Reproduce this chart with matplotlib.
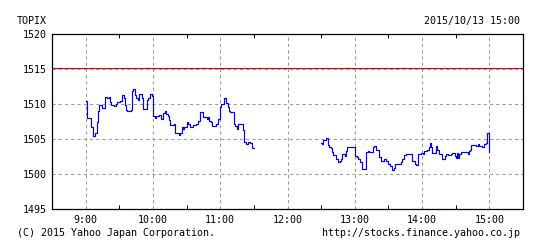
import numpy as np
import matplotlib.pyplot as plt
from matplotlib.ticker import MultipleLocator

# morning session 9:00-11:30
am_time = ["09:00", "09:01", "09:05", "09:07", "09:08", "09:10", "09:11", "09:12",
           "09:15", "09:17", "09:19", "09:21", "09:22", "09:23", "09:25", "09:27",
           "09:28", "09:31", "09:32", "09:34", "09:35", "09:36", "09:37", "09:40",
           "09:41", "09:42", "09:44", "09:45", "09:47", "09:48", "09:50", "09:51",
           "09:55", "09:56", "09:57", "09:59", "10:00", "10:02", "10:03", "10:05",
           "10:07", "10:09", "10:11", "10:12", "10:13", "10:14", "10:15", "10:19",
           "10:20", "10:23", "10:24", "10:26", "10:27", "10:28", "10:30", "10:31",
           "10:33", "10:36", "10:38", "10:40", "10:42", "10:45", "10:46", "10:48",
           "10:49", "10:50", "10:52", "10:53", "10:56", "10:58", "11:00", "11:01",
           "11:03", "11:05", "11:07", "11:08", "11:09", "11:12", "11:13", "11:15",
           "11:16", "11:18", "11:20", "11:21", "11:23", "11:25", "11:27", "11:28",
           "11:30"]
am_value = [1510.4, 1508.0, 1506.7, 1505.4, 1505.9, 1507.5, 1509.0, 1509.8,
            1509.4, 1511.0, 1510.8, 1511.0, 1510.3, 1509.9, 1509.7, 1510.0,
            1510.3, 1510.5, 1511.3, 1510.8, 1509.9, 1509.1, 1509.0, 1509.2,
            1511.9, 1512.2, 1511.3, 1510.8, 1510.6, 1511.5, 1510.9, 1509.3,
            1510.6, 1510.9, 1511.5, 1511.2, 1508.3, 1508.0, 1508.3, 1508.4,
            1507.8, 1508.7, 1509.0, 1508.6, 1508.3, 1507.7, 1507.0, 1507.1,
            1505.8, 1505.6, 1505.8, 1506.7, 1506.5, 1506.7, 1507.4, 1507.1,
            1506.7, 1507.0, 1507.1, 1507.6, 1508.8, 1508.2, 1508.1, 1507.9,
            1508.1, 1507.6, 1507.4, 1506.8, 1507.2, 1507.9, 1509.6, 1510.0,
            1510.8, 1510.2, 1509.6, 1509.0, 1508.8, 1507.2, 1506.9, 1506.4,
            1507.2, 1507.1, 1506.3, 1504.6, 1504.3, 1504.6, 1504.4, 1503.7,
            1503.7]

# afternoon session 12:30-15:00
pm_time = ["12:30", "12:31", "12:32", "12:34", "12:36", "12:37", "12:39", "12:40",
           "12:41", "12:43", "12:45", "12:47", "12:48", "12:49", "12:51", "12:52",
           "12:53", "12:56", "12:57", "12:58", "13:00", "13:02", "13:03", "13:05",
           "13:06", "13:10", "13:12", "13:13", "13:15", "13:16", "13:17", "13:19",
           "13:21", "13:22", "13:23", "13:25", "13:26", "13:28", "13:30", "13:31",
           "13:33", "13:35", "13:36", "13:39", "13:41", "13:42", "13:44", "13:46",
           "13:51", "13:54", "13:55", "13:56", "13:59", "14:01", "14:02", "14:04",
           "14:06", "14:07", "14:08", "14:09", "14:12", "14:13", "14:15", "14:18",
           "14:20", "14:21", "14:23", "14:26", "14:27", "14:29", "14:30", "14:31",
           "14:32", "14:33", "14:35", "14:37", "14:41", "14:42", "14:43", "14:44",
           "14:48", "14:50", "14:51", "14:53", "14:55", "14:57", "14:58", "14:59",
           "15:00"]
pm_value = [1504.4, 1504.3, 1504.8, 1505.1, 1504.1, 1503.8, 1503.7, 1503.1,
            1502.7, 1502.1, 1501.7, 1501.8, 1502.1, 1502.9, 1502.6, 1503.3,
            1503.9, 1503.8, 1503.9, 1503.8, 1502.6, 1502.5, 1502.1, 1501.7,
            1500.7, 1503.1, 1503.3, 1503.1, 1503.2, 1503.9, 1504.0, 1503.5,
            1503.4, 1502.4, 1501.9, 1501.8, 1502.2, 1501.8, 1501.4, 1501.1,
            1500.6, 1500.8, 1501.4, 1501.5, 1501.7, 1502.1, 1502.7, 1502.8,
            1501.8, 1501.5, 1501.3, 1502.8, 1503.0, 1502.9, 1503.3, 1503.4,
            1503.9, 1504.5, 1503.9, 1503.0, 1504.0, 1503.4, 1502.8, 1502.1,
            1502.6, 1502.8, 1502.7, 1502.9, 1503.0, 1502.6, 1502.3, 1503.0,
            1502.3, 1502.9, 1503.2, 1503.1, 1502.8, 1503.3, 1503.5, 1504.1,
            1504.0, 1504.3, 1504.0, 1503.9, 1504.3, 1504.4, 1505.8, 1505.8,
            1503.1]

prev_close = 1515.2
hour_labels = ["9:00", "10:00", "11:00", "12:00", "13:00", "14:00", "15:00"]


def to_hours(times):
    return np.array([int(t[:2]) + int(t[3:]) / 60 for t in times])


plt.rcParams['font.family'] = ['DejaVu Sans Mono']
W, H = 547, 244
fs = 7.2
fig = plt.figure(figsize=(W / 100, H / 100), dpi=100)
ax = fig.add_axes([52 / W, 1 - 209 / H, (523 - 52) / W, (209 - 34) / H])

ax.set_xlim(8.5, 15.5)
ax.set_ylim(1495, 1520)

grid_kw = dict(color='#999999', lw=0.75, ls=(0, (3, 3)), zorder=1)
for h in range(9, 16):
    ax.axvline(h, **grid_kw)
for v in range(1500, 1520, 5):
    ax.axhline(v, **grid_kw)

ax.axhline(prev_close, color='#e00000', lw=0.8, zorder=2)

ax.plot(to_hours(am_time), am_value, drawstyle='steps-post', color='#0000ff', lw=0.85, zorder=3)
ax.plot(to_hours(pm_time), pm_value, drawstyle='steps-post', color='#0000ff', lw=0.85, zorder=3)

ax.set_xticks(range(9, 16))
ax.set_xticklabels(hour_labels)
ax.xaxis.set_minor_locator(MultipleLocator(0.5))
ax.tick_params(axis='x', which='major', length=0, pad=4, labelsize=fs)
ax.tick_params(axis='x', which='minor', length=3, direction='in', top=True, width=0.75)
ax.yaxis.set_major_locator(MultipleLocator(5))
ax.tick_params(axis='y', which='major', length=0, pad=4, labelsize=fs)

for s in ax.spines.values():
    s.set_linewidth(0.9)
    s.set_color('black')

fig.text(17 / W, 1 - 21 / H, "TOPIX", fontsize=fs, va='center', ha='left')
fig.text(520 / W, 1 - 21 / H, "2015/10/13 15:00", fontsize=fs, va='center', ha='right')
fig.text(17 / W, 1 - 232.5 / H, "(C) 2015 Yahoo Japan Corporation.", fontsize=fs, va='center', ha='left')
fig.text(520 / W, 1 - 232.5 / H, "http://stocks.finance.yahoo.co.jp", fontsize=fs, va='center', ha='right')

fig.savefig("out.png", dpi=100)
